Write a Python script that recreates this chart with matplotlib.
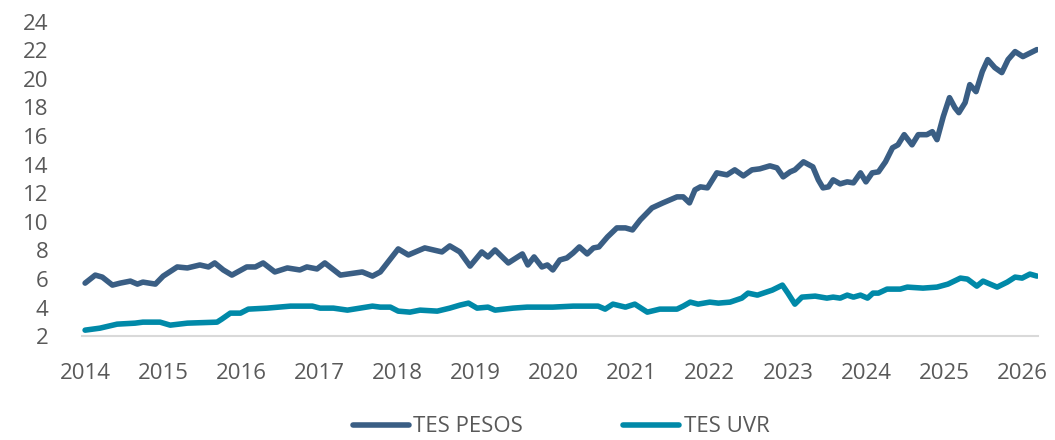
import matplotlib.pyplot as plt

# TES PESOS (fecha en años decimales, valor)
pesos_x = [2014.00, 2014.13, 2014.22, 2014.35, 2014.45, 2014.58, 2014.67, 2014.74, 2014.90,
           2015.00, 2015.18, 2015.31, 2015.47, 2015.58, 2015.66, 2015.77, 2015.88,
           2016.07, 2016.18, 2016.28, 2016.43, 2016.59, 2016.75, 2016.84, 2016.97,
           2017.07, 2017.27, 2017.55, 2017.68, 2017.78, 2017.87,
           2018.01, 2018.14, 2018.35, 2018.57, 2018.67, 2018.80, 2018.93,
           2019.08, 2019.16, 2019.25, 2019.42, 2019.60, 2019.67, 2019.75, 2019.85, 2019.92, 2019.99,
           2020.08, 2020.17, 2020.25, 2020.33, 2020.43, 2020.51, 2020.58, 2020.69, 2020.81, 2020.92,
           2021.01, 2021.11, 2021.26, 2021.40, 2021.58, 2021.66, 2021.74, 2021.81, 2021.88, 2021.97,
           2022.09, 2022.22, 2022.32, 2022.43, 2022.54, 2022.64, 2022.77, 2022.86, 2022.94,
           2023.03, 2023.09, 2023.20, 2023.32, 2023.39, 2023.45, 2023.52, 2023.58, 2023.67,
           2023.76, 2023.84, 2023.93, 2024.00, 2024.08, 2024.16, 2024.25, 2024.34, 2024.41,
           2024.49, 2024.59, 2024.67, 2024.78, 2024.85, 2024.91, 2024.99,
           2025.07, 2025.14, 2025.19, 2025.27, 2025.33, 2025.41, 2025.49, 2025.56, 2025.65,
           2025.74, 2025.82, 2025.91, 2026.01, 2026.19]
pesos_y = [5.71, 6.27, 6.13, 5.57, 5.71, 5.85, 5.64, 5.78, 5.64,
           6.20, 6.84, 6.77, 6.98, 6.84, 7.12, 6.63, 6.27,
           6.84, 6.84, 7.12, 6.49, 6.77, 6.63, 6.84, 6.70,
           7.12, 6.27, 6.49, 6.20, 6.49, 7.12,
           8.10, 7.68, 8.17, 7.89, 8.31, 7.89, 6.90,
           7.89, 7.54, 8.03, 7.12, 7.75, 6.98, 7.54, 6.84, 6.98, 6.63,
           7.33, 7.47, 7.82, 8.24, 7.75, 8.17, 8.24, 8.94, 9.57, 9.57,
           9.43, 10.13, 10.97, 11.32, 11.74, 11.74, 11.32, 12.23, 12.44, 12.37,
           13.42, 13.28, 13.63, 13.21, 13.63, 13.70, 13.91, 13.77, 13.14,
           13.49, 13.63, 14.19, 13.84, 12.93, 12.37, 12.44, 12.93, 12.65,
           12.79, 12.72, 13.42, 12.79, 13.42, 13.49, 14.19, 15.17, 15.38,
           16.09, 15.38, 16.09, 16.09, 16.30, 15.74, 17.35,
           18.68, 17.97, 17.63, 18.33, 19.59, 19.10, 20.50, 21.34, 20.78,
           20.43, 21.34, 21.90, 21.55, 22.04]

# TES UVR
uvr_x = [2014.00, 2014.19, 2014.41, 2014.64, 2014.74, 2014.96, 2015.09, 2015.31, 2015.69,
         2015.75, 2015.86, 2015.99, 2016.09, 2016.33, 2016.63, 2016.91, 2017.01, 2017.18,
         2017.36, 2017.52, 2017.68, 2017.78, 2017.91, 2018.01, 2018.16, 2018.29, 2018.51,
         2018.67, 2018.80, 2018.91, 2019.02, 2019.16, 2019.25, 2019.48, 2019.66, 2019.99,
         2020.25, 2020.57, 2020.66, 2020.76, 2020.92, 2021.04, 2021.20, 2021.36, 2021.58,
         2021.66, 2021.75, 2021.85, 2022.00, 2022.11, 2022.26, 2022.41, 2022.49, 2022.61,
         2022.80, 2022.93, 2023.00, 2023.09, 2023.18, 2023.35, 2023.50, 2023.58, 2023.67,
         2023.76, 2023.84, 2023.93, 2024.02, 2024.09, 2024.16, 2024.27, 2024.44, 2024.53,
         2024.73, 2024.91, 2025.05, 2025.21, 2025.30, 2025.42, 2025.50, 2025.68, 2025.81,
         2025.91, 2026.00, 2026.10, 2026.19]
uvr_y = [2.42, 2.56, 2.84, 2.91, 2.98, 2.98, 2.77, 2.91, 2.98,
         3.19, 3.61, 3.61, 3.89, 3.96, 4.10, 4.10, 3.96, 3.96,
         3.82, 3.96, 4.10, 4.03, 4.03, 3.75, 3.68, 3.82, 3.75,
         3.96, 4.17, 4.31, 3.96, 4.03, 3.82, 3.96, 4.03, 4.03,
         4.10, 4.10, 3.89, 4.24, 4.03, 4.24, 3.68, 3.89, 3.89,
         4.10, 4.38, 4.24, 4.38, 4.31, 4.38, 4.66, 5.01, 4.87,
         5.22, 5.57, 5.01, 4.24, 4.73, 4.80, 4.66, 4.73, 4.66,
         4.87, 4.73, 4.87, 4.66, 5.01, 5.01, 5.29, 5.29, 5.43,
         5.36, 5.43, 5.64, 6.06, 5.99, 5.50, 5.85, 5.43, 5.78,
         6.13, 6.06, 6.34, 6.20]

years = list(range(2014, 2027))
yticks = list(range(2, 25, 2))

plt.rcParams['font.family'] = ['Open Sans', 'DejaVu Sans']
text_color = '#595959'

fig = plt.figure(figsize=(10.55, 4.4), dpi=100)
ax = fig.add_axes([0.0777, 0.236, 0.9063, 0.715])

ax.plot(pesos_x, pesos_y, color='#3A5E84', lw=4, solid_capstyle='round',
        solid_joinstyle='round', label='TES PESOS')
ax.plot(uvr_x, uvr_y, color='#0089A8', lw=4, solid_capstyle='round',
        solid_joinstyle='round', label='TES UVR')

ax.set_xlim(2013.96, 2026.205)
ax.set_ylim(2, 24)
ax.set_xticks(years)
ax.set_xticklabels([str(y) for y in years])
ax.set_yticks(yticks)

for s in ['top', 'right', 'left']:
    ax.spines[s].set_visible(False)
ax.spines['bottom'].set_color('#D9D9D9')
ax.spines['bottom'].set_linewidth(1.5)
ax.spines['bottom'].set_zorder(0)

ax.tick_params(axis='both', length=0, labelsize=16, colors=text_color)
ax.tick_params(axis='x', pad=19)
ax.tick_params(axis='y', pad=24)

fig.legend(loc='center', bbox_to_anchor=(0.532, 0.03), ncol=2, frameon=False,
           fontsize=16, labelcolor=text_color, handlelength=2.5, handletextpad=0.22,
           columnspacing=4.5)

fig.savefig('out.png', dpi=100)
